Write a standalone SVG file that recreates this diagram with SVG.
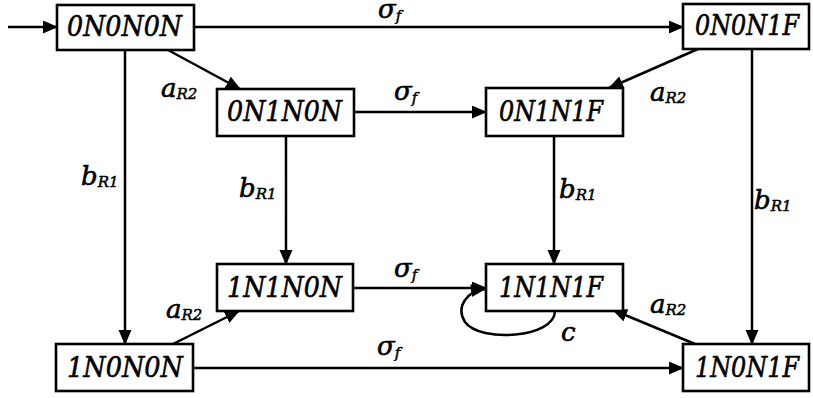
<svg xmlns="http://www.w3.org/2000/svg" width="813" height="398" viewBox="0 0 813 398">
  <style>
    .box { fill: #ffffff; stroke: #000000; stroke-width: 2.6; }
    .name { font-family: "DejaVu Serif", "Liberation Serif", serif; font-style: italic; font-size: 28px; fill: #000000; stroke: #000000; stroke-width: 0.6; }
    .edge { fill: none; stroke: #000000; stroke-width: 2.5; marker-end: url(#head); }
    .lbl { font-family: "DejaVu Serif", "Liberation Serif", serif; font-style: italic; font-size: 26px; fill: #000000; stroke: #000000; stroke-width: 0.6; }
    .sub { font-size: 15px; stroke-width: 0.5; }
  </style>
  <defs>
    <marker id="head" markerUnits="userSpaceOnUse" markerWidth="16" markerHeight="14" refX="14" refY="6.5" orient="auto">
      <path d="M0,0 L15,6.5 L0,13 z" fill="#000000"/>
    </marker>
  </defs>

  <rect width="813" height="398" fill="#ffffff"/>

  <!-- transitions -->
  <g id="edges">
    <line class="edge" x1="8" y1="27" x2="57" y2="27"/>
    <line class="edge" x1="194" y1="27" x2="683" y2="27"/>
    <line class="edge" x1="168" y1="50" x2="240" y2="89"/>
    <line class="edge" x1="125" y1="50" x2="125" y2="344"/>
    <line class="edge" x1="698" y1="49" x2="609" y2="88"/>
    <line class="edge" x1="752" y1="48" x2="752" y2="344"/>
    <line class="edge" x1="354" y1="112" x2="486" y2="112"/>
    <line class="edge" x1="286" y1="136" x2="286" y2="264"/>
    <line class="edge" x1="554" y1="136" x2="554" y2="264"/>
    <line class="edge" x1="353" y1="288" x2="486" y2="288"/>
    <line class="edge" x1="173" y1="344" x2="239" y2="311"/>
    <line class="edge" x1="193" y1="368" x2="683" y2="368"/>
    <line class="edge" x1="695" y1="344" x2="613" y2="310"/>
    <path class="edge" d="M555,311 C555,338 480,343 465,322 C455,306 468,291 485,289"/>

    <!-- labels -->
    <text class="lbl" x="378" y="18">σ<tspan class="sub" dy="3">f</tspan></text>
    <text class="lbl" x="161" y="97">a<tspan class="sub" dy="2">R2</tspan></text>
    <text class="lbl" x="650" y="101">a<tspan class="sub" dy="2">R2</tspan></text>
    <text class="lbl" x="394" y="100">σ<tspan class="sub" dy="3">f</tspan></text>
    <text class="lbl" x="81" y="185">b<tspan class="sub" dy="2">R1</tspan></text>
    <text class="lbl" x="239" y="197">b<tspan class="sub" dy="2">R1</tspan></text>
    <text class="lbl" x="559" y="198">b<tspan class="sub" dy="2">R1</tspan></text>
    <text class="lbl" x="754" y="209">b<tspan class="sub" dy="2">R1</tspan></text>
    <text class="lbl" x="394" y="277">σ<tspan class="sub" dy="3">f</tspan></text>
    <text class="lbl" x="166" y="318">a<tspan class="sub" dy="2">R2</tspan></text>
    <text class="lbl" x="650" y="313">a<tspan class="sub" dy="2">R2</tspan></text>
    <text class="lbl" x="561" y="341">c</text>
    <text class="lbl" x="377" y="355">σ<tspan class="sub" dy="3">f</tspan></text>
  </g>

  <!-- states -->
  <g id="s0N0N0N">
    <rect class="box" x="57" y="5" width="137" height="45"/>
    <text class="name" x="67" y="36" textLength="115" lengthAdjust="spacingAndGlyphs">0N0N0N</text>
  </g>
  <g id="s0N0N1F">
    <rect class="box" x="683" y="4" width="126" height="45"/>
    <text class="name" x="695" y="35" textLength="104" lengthAdjust="spacingAndGlyphs">0N0N1F</text>
  </g>
  <g id="s0N1N0N">
    <rect class="box" x="217" y="89" width="137" height="47"/>
    <text class="name" x="227" y="121" textLength="115" lengthAdjust="spacingAndGlyphs">0N1N0N</text>
  </g>
  <g id="s0N1N1F">
    <rect class="box" x="486" y="88" width="137" height="48"/>
    <text class="name" x="499" y="121" textLength="104" lengthAdjust="spacingAndGlyphs">0N1N1F</text>
  </g>
  <g id="s1N1N0N">
    <rect class="box" x="217" y="264" width="136" height="47"/>
    <text class="name" x="227" y="297" textLength="115" lengthAdjust="spacingAndGlyphs">1N1N0N</text>
  </g>
  <g id="s1N1N1F">
    <rect class="box" x="486" y="264" width="137" height="47"/>
    <text class="name" x="499" y="297" textLength="104" lengthAdjust="spacingAndGlyphs">1N1N1F</text>
  </g>
  <g id="s1N0N0N">
    <rect class="box" x="56" y="344" width="137" height="47"/>
    <text class="name" x="67" y="377" textLength="116" lengthAdjust="spacingAndGlyphs">1N0N0N</text>
  </g>
  <g id="s1N0N1F">
    <rect class="box" x="683" y="344" width="126" height="47"/>
    <text class="name" x="695" y="377" textLength="104" lengthAdjust="spacingAndGlyphs">1N0N1F</text>
  </g>
</svg>
